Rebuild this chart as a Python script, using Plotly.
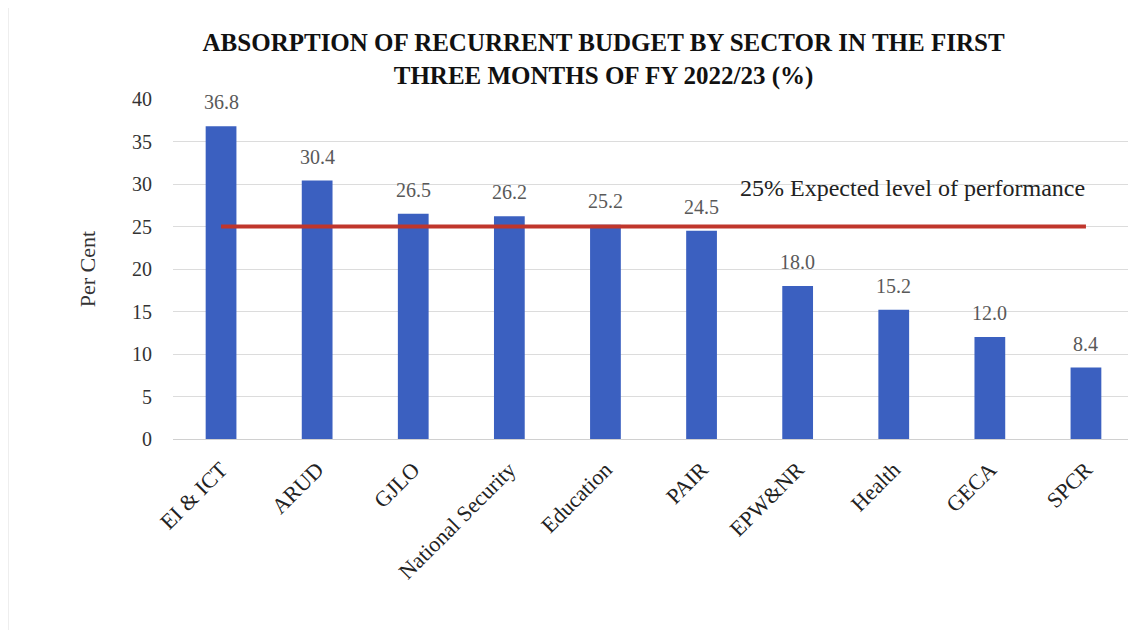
import plotly.graph_objects as go

categories = ["EI & ICT", "ARUD", "GJLO", "National Security", "Education",
              "PAIR", "EPW&NR", "Health", "GECA", "SPCR"]
absorption = [36.8, 30.4, 26.5, 26.2, 25.2, 24.5, 18.0, 15.2, 12.0, 8.4]
expected_level = 25
expected_label = "25% Expected level of performance"
title_lines = ["ABSORPTION OF RECURRENT BUDGET BY SECTOR IN THE FIRST",
               "THREE MONTHS OF FY 2022/23 (%)"]
y_ticks = [0, 5, 10, 15, 20, 25, 30, 35, 40]

FONT = "Liberation Serif"
W, H = 1128, 622
L, R, T, B = 165, 2, 91, 191

fig = go.Figure()
fig.add_trace(go.Bar(
    x=categories, y=absorption,
    marker=dict(color="#3b60c0", line=dict(width=0)),
    width=0.32, showlegend=False,
))
fig.add_trace(go.Scatter(
    x=categories, y=[expected_level] * len(categories),
    mode="lines", line=dict(color="#c0362c", width=4),
    showlegend=False,
))

for c, v in zip(categories, absorption):
    fig.add_annotation(x=c, y=v, text=f"{v:.1f}", showarrow=False,
                       yshift=24, font=dict(family=FONT, size=20, color="#595959"))

fig.add_annotation(x=7.2, y=29.5, text=expected_label, showarrow=False,
                   font=dict(family=FONT, size=24, color="#222222"))

# chart border line on the left edge
px_w = W - L - R
fig.add_shape(type="line", xref="paper", yref="paper", x0=-L / px_w, x1=-L / px_w,
              y0=-0.6, y1=1.3, line=dict(color="#dddddd", width=1))

fig.update_layout(
    width=W, height=H,
    paper_bgcolor="white", plot_bgcolor="white",
    margin=dict(l=L, r=R, t=T, b=B),
    font=dict(family=FONT, color="#333333"),
    title=dict(text="<br>".join(title_lines), x=0.528, xanchor="center",
               yref="container", y=1 - 43 / H, yanchor="top",
               font=dict(family=FONT, size=25, color="#111111", weight="bold")),
    bargap=0.68,
)
fig.update_xaxes(
    tickangle=-45, tickfont=dict(family=FONT, size=22, color="#222222"),
    showline=True, linecolor="#d0d0d0", linewidth=1, ticks="",
    showgrid=False, automargin=False, ticklabelstandoff=8,
)
fig.update_yaxes(
    range=[0, 40], tickvals=y_ticks, showgrid=True, gridcolor="#dcdcdc",
    gridwidth=1, zeroline=False, ticks="", automargin=False,
    ticklabelstandoff=20,
    tickfont=dict(family=FONT, size=20, color="#333333"),
    title=dict(text="Per Cent", font=dict(family=FONT, size=22, color="#333333"),
               standoff=30),
)

fig.write_html("out.html")
